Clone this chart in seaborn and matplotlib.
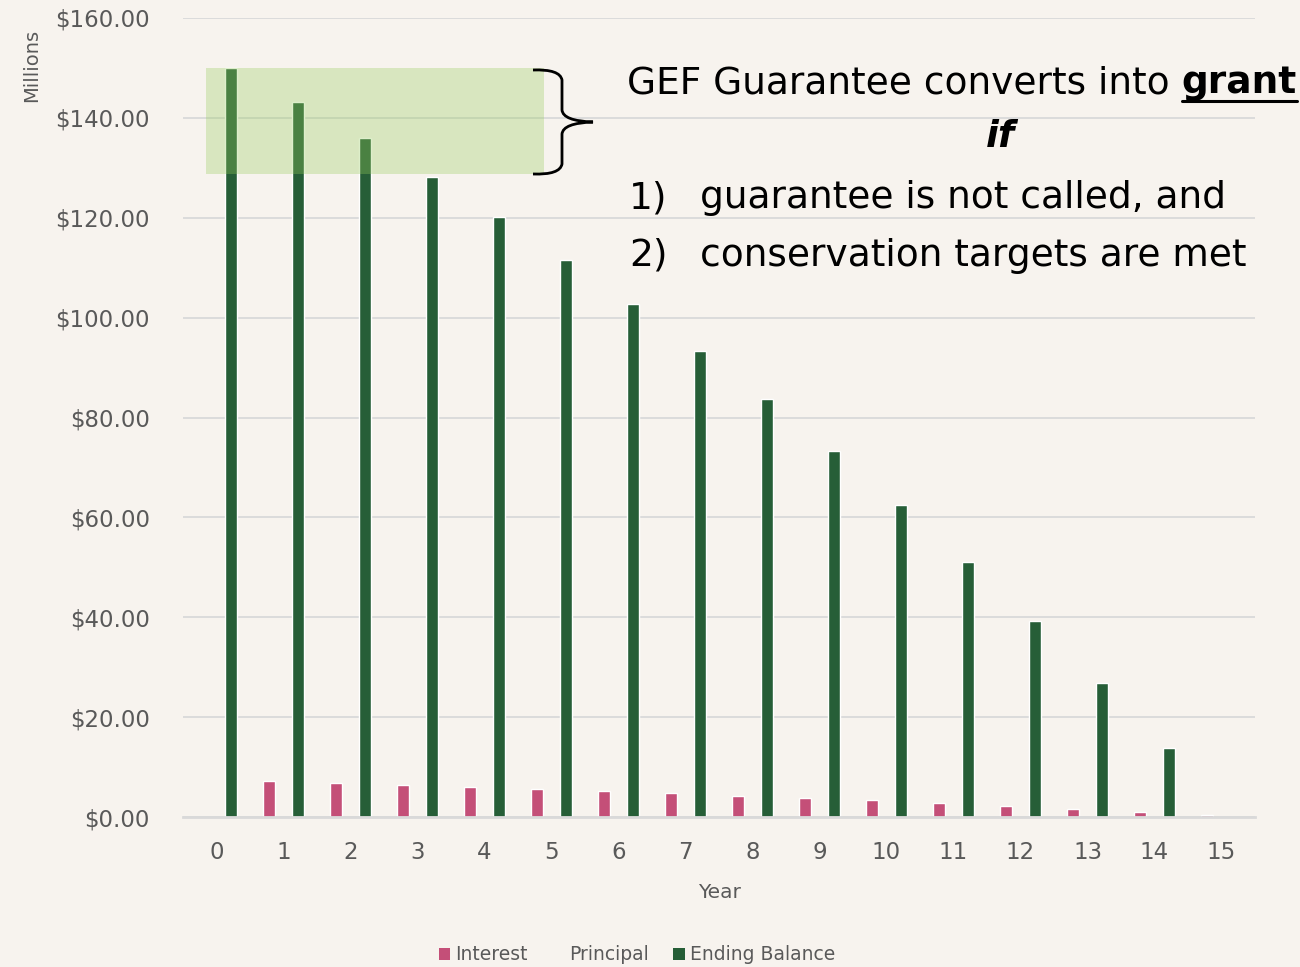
import numpy as np
import pandas as pd
import matplotlib
matplotlib.use("Agg")
import matplotlib.pyplot as plt
import seaborn as sns
from matplotlib.patches import Rectangle, Patch, PathPatch
from matplotlib.path import Path

# ---------------- data ----------------
years = list(range(16))
interest = [0, 7.2, 6.8, 6.5, 6.1, 5.6, 5.2, 4.8, 4.3, 3.9, 3.4, 2.8, 2.2, 1.6, 1.0, 0.4]
principal = [0, 7.0, 7.2, 7.8, 7.9, 8.6, 8.8, 9.4, 9.6, 10.5, 10.8, 11.4, 11.8, 12.4, 13.1, 13.8]
ending_balance = [150.0, 143.1, 135.9, 128.1, 120.2, 111.6, 102.8, 93.4, 83.8, 73.3,
                  62.5, 51.1, 39.3, 26.9, 13.8, 0.0]
series_names = ["Interest", "Principal", "Ending Balance"]
y_ticks = [0, 20, 40, 60, 80, 100, 120, 140, 160]

BG = "#f7f3ee"
PINK = "#c44f78"
GREEN = "#265e37"
GRAY = "#595959"

df = pd.DataFrame({
    "Year": years * 3,
    "Value": interest + principal + ending_balance,
    "Series": [series_names[0]] * 16 + [series_names[1]] * 16 + [series_names[2]] * 16,
})

sns.set_theme(style="white")
plt.rcParams["font.family"] = ["DejaVu Sans"]

W, H = 1300, 967
fig = plt.figure(figsize=(W / 100, H / 100), dpi=100, facecolor=BG)
ax = fig.add_axes([183 / W, 1 - 817 / H, (1255 - 183) / W, (817 - 18) / H])
ax.set_facecolor(BG)

sns.barplot(data=df, x="Year", y="Value", hue="Series", hue_order=series_names,
            palette={"Interest": PINK, "Principal": GREEN, "Ending Balance": GREEN},
            width=0.67, gap=0.2, ax=ax, legend=False, saturation=1, zorder=3)

# Principal series is drawn fully transparent (as in the reference)
for p in ax.containers[1]:
    p.set_alpha(0)

ax.set_xlim(-0.5, 15.5)
ax.set_ylim(0, 160)
ax.set_yticks(y_ticks)
ax.set_yticklabels([f"${v:.2f}" for v in y_ticks])
ax.grid(axis="y", color="#d9d9d9", linewidth=1.3, zorder=0)
ax.grid(axis="x", visible=False)
for s in ["top", "right", "left"]:
    ax.spines[s].set_visible(False)
ax.spines["bottom"].set_color("#d9d9d9")
ax.spines["bottom"].set_linewidth(2)
ax.spines["bottom"].set_zorder(4)
ax.tick_params(axis="y", length=0, pad=24, labelsize=16.5, labelcolor=GRAY)
ax.tick_params(axis="x", length=0, pad=17, labelsize=16.5, labelcolor=GRAY)
ax.set_xlabel("Year", fontsize=14.5, color=GRAY, labelpad=14)
ax.set_ylabel("")
fig.text(32 / W, 1 - 65 / H, "Millions", rotation=90, ha="center", va="center",
         fontsize=14, color=GRAY)

# highlight rectangle
x0 = (206 - 183) / 67 - 0.5
x1 = (544 - 183) / 67 - 0.5
ax.add_patch(Rectangle((x0, 128.7), x1 - x0, 150 - 128.7, facecolor="#98cd5c",
                       alpha=0.32, edgecolor="none", zorder=5))

# brace (figure pixel coordinates)
def fp(x, y):
    return (x / W, 1 - y / H)

verts = [fp(533, 70), fp(560, 69), fp(562, 80), fp(562, 110), fp(563, 121), fp(593, 122),
         fp(563, 123), fp(562, 134), fp(562, 164), fp(560, 175), fp(533, 174)]
codes = [Path.MOVETO, Path.CURVE3, Path.CURVE3, Path.LINETO, Path.CURVE3, Path.CURVE3,
         Path.CURVE3, Path.CURVE3, Path.LINETO, Path.CURVE3, Path.CURVE3]
fig.add_artist(PathPatch(Path(verts, codes), transform=fig.transFigure,
                         facecolor="none", edgecolor="black", linewidth=2))

# annotation text
fs = 27
t1 = fig.text(627 / W, 1 - 93 / H, "GEF Guarantee converts into ", fontsize=fs,
              color="black", ha="left", va="baseline")
fig.canvas.draw()
r = fig.canvas.get_renderer()
bb = t1.get_window_extent(r)
t2 = fig.text(bb.x1 / W, 1 - 93 / H, "grant", fontsize=fs, fontweight="bold",
              color="black", ha="left", va="baseline")
bb2 = t2.get_window_extent(r)
fig.add_artist(plt.Line2D([bb2.x0 / W, bb2.x1 / W], [1 - 101 / H, 1 - 101 / H],
                          transform=fig.transFigure, color="black", linewidth=2.2))
fig.text(1000 / W, 1 - 137 / H, "if", fontsize=fs, fontweight="bold", style="italic",
         ha="center", va="center", color="black")
fig.text(629 / W, 1 - 208 / H, "1)", fontsize=fs, ha="left", va="baseline", color="black")
fig.text(700 / W, 1 - 208 / H, "guarantee is not called, and", fontsize=fs,
         ha="left", va="baseline", color="black")
fig.text(629 / W, 1 - 266 / H, "2)", fontsize=fs, ha="left", va="baseline", color="black")
fig.text(700 / W, 1 - 266 / H, "conservation targets are met", fontsize=fs,
         ha="left", va="baseline", color="black")

# legend
handles = [Patch(facecolor=PINK, edgecolor="none"),
           Patch(facecolor="none", edgecolor="none"),
           Patch(facecolor=GREEN, edgecolor="none")]
fig.legend(handles, series_names, loc="center", bbox_to_anchor=(637 / W, 1 - 955 / H),
           ncol=3, frameon=False, fontsize=13.5, labelcolor=GRAY,
           handlelength=0.6, handleheight=0.6, handletextpad=0.3, columnspacing=1.3)

fig.savefig("out.png", dpi=100, facecolor=BG)
